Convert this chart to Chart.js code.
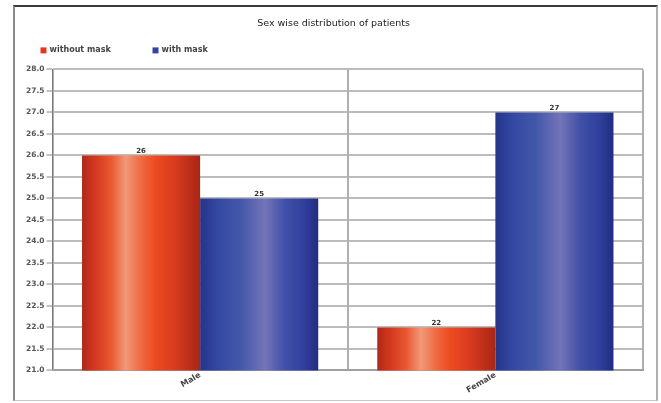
<!DOCTYPE html>
<html>
<head>
<meta charset="utf-8">
<script src="https://cdn.jsdelivr.net/npm/chart.js@4.4.0/dist/chart.umd.min.js"></script>
<style>
    body { margin: 0; background: #ffffff; }
    #frame {
        position: absolute;
        left: 13px;
        top: 5px;
        width: 641px;
        height: 393px;
        border-left: 2px solid #8a8a8a;
        border-top: 2px solid #3a3a3a;
        border-right: 2px solid #b0b0b0;
        border-bottom: 1px solid #c8c8c8;
    }
</style>
</head>
<body>
<div id="frame"><canvas id="barChart"></canvas></div>
<script>
const categories = ['Male', 'Female'];
const seriesNames = ['without mask', 'with mask'];
const withoutMask = [26, 22];
const withMask = [25, 27];
const yTickValues = [21.0, 21.5, 22.0, 22.5, 23.0, 23.5, 24.0, 24.5, 25.0, 25.5, 26.0, 26.5, 27.0, 27.5, 28.0];

const fontFamily = '"DejaVu Sans", Verdana, sans-serif';
const seriesColors = ['#e03a1e', '#3444a4'];
const redStops = [[0, '#b02818'], [0.12, '#d63a20'], [0.25, '#ea5a32'], [0.37, '#f29878'], [0.5, '#ee6a40'], [0.62, '#ec4a20'], [0.8, '#d63a1e'], [1, '#a82616']];
const blueStops = [[0, '#26348a'], [0.15, '#3448a2'], [0.35, '#4458aa'], [0.55, '#7474b8'], [0.72, '#4050a8'], [0.88, '#30409c'], [1, '#222c80']];

//Build a cylinder style gradient across the bar using the x scale.
function barGradient(context, stops, solid) {
    var chart = context.chart;
    var xScale = chart.scales.x;
    if (context.dataIndex === undefined || !xScale) {
        return solid;
    }
    var center = xScale.getPixelForValue(context.dataIndex);
    var barWidth = (xScale.width / categories.length) * 0.8 / 2;
    var left = context.datasetIndex === 0 ? center - barWidth : center;
    if (!isFinite(left) || !isFinite(barWidth) || barWidth <= 0) {
        return solid;
    }
    var gradient = chart.ctx.createLinearGradient(left, 0, left + barWidth, 0);
    stops.forEach(function (s) {
        gradient.addColorStop(s[0], s[1]);
    });
    return gradient;
}

//Draw the value above each bar.
const valueLabels = {
    id: 'valueLabels',
    afterDatasetsDraw: function (chart) {
        var ctx = chart.ctx;
        ctx.save();
        ctx.font = 'bold 7px ' + fontFamily;
        ctx.fillStyle = '#333333';
        ctx.textAlign = 'center';
        ctx.textBaseline = 'bottom';
        chart.data.datasets.forEach(function (dataset, i) {
            chart.getDatasetMeta(i).data.forEach(function (bar, j) {
                ctx.fillText(String(dataset.data[j]), bar.x, bar.y - 1);
            });
        });
        ctx.restore();
    }
};

//Small legend left of the plot, with wide spacing between the items.
const wideLegend = {
    id: 'wideLegend',
    afterDraw: function (chart) {
        var ctx = chart.ctx;
        var x = chart.chartArea.left - 12;
        var y = chart.chartArea.top - 19;
        var step = 112;
        ctx.save();
        ctx.font = 'bold 8px ' + fontFamily;
        ctx.textBaseline = 'middle';
        chart.data.datasets.forEach(function (dataset, i) {
            ctx.fillStyle = seriesColors[i];
            ctx.fillRect(x + i * step, y - 3, 6, 6);
            ctx.fillStyle = '#444444';
            ctx.fillText(dataset.label, x + i * step + 9, y);
        });
        ctx.restore();
    }
};

var barChartControl = document.getElementById('barChart');

var barChart = new Chart(barChartControl, {
    type: 'bar',
    data: {
        labels: categories,
        datasets: [
            {
                label: seriesNames[0],
                data: withoutMask,
                backgroundColor: function (c) { return barGradient(c, redStops, seriesColors[0]); },
                borderWidth: 0,
                categoryPercentage: 0.8,
                barPercentage: 1.0
            },
            {
                label: seriesNames[1],
                data: withMask,
                backgroundColor: function (c) { return barGradient(c, blueStops, seriesColors[1]); },
                borderWidth: 0,
                categoryPercentage: 0.8,
                barPercentage: 1.0
            }
        ]
    },
    options: {
        responsive: true,
        maintainAspectRatio: false,
        animation: false,
        events: [],
        layout: {
            padding: { left: 9, right: 13, top: 0, bottom: 5 }
        },
        scales: {
            y: {
                min: 21,
                max: 28,
                afterBuildTicks: function (axis) {
                    axis.ticks = yTickValues.map(function (v) { return { value: v }; });
                },
                ticks: {
                    callback: function (v) { return Number(v).toFixed(1); },
                    font: { size: 7.5, weight: 'bold', family: fontFamily },
                    color: '#555555',
                    padding: 2
                },
                grid: {
                    color: '#bcbcbc',
                    lineWidth: 2,
                    tickLength: 6,
                    tickColor: '#888888',
                    tickWidth: 1
                },
                border: { color: '#777777', width: 1 }
            },
            x: {
                ticks: {
                    minRotation: 30,
                    maxRotation: 30,
                    font: { size: 8, weight: 'bold', family: fontFamily },
                    color: '#444444',
                    padding: 0
                },
                grid: {
                    color: '#b0b0b0',
                    lineWidth: 2,
                    tickLength: 0
                },
                border: { color: '#a0a0a0', width: 2 }
            }
        },
        plugins: {
            title: {
                display: true,
                text: 'Sex wise distribution of patients',
                font: { size: 9.5, weight: 'normal', family: fontFamily },
                color: '#222222',
                padding: { top: 11, bottom: 40 }
            },
            legend: { display: false },
            tooltip: { enabled: false }
        }
    },
    plugins: [valueLabels, wideLegend]
});
</script>
</body>
</html>
